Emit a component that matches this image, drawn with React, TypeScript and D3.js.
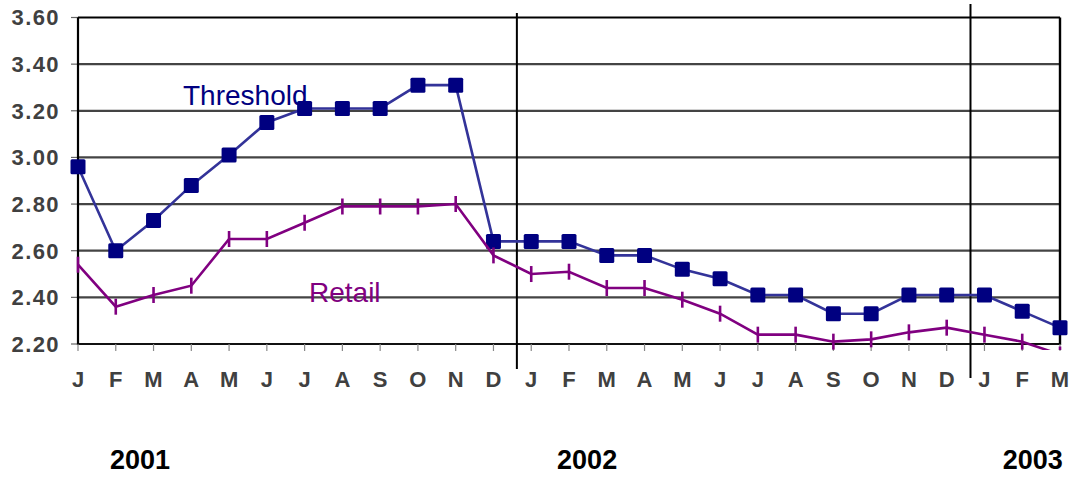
import React from "react";
import * as d3 from "d3";

// Monthly prices, January 2001 – March 2003
const months = ["J","F","M","A","M","J","J","A","S","O","N","D","J","F","M","A","M","J","J","A","S","O","N","D","J","F","M"];
const threshold = [2.96,2.60,2.73,2.88,3.01,3.15,3.21,3.21,3.21,3.31,3.31,2.64,2.64,2.64,2.58,2.58,2.52,2.48,2.41,2.41,2.33,2.33,2.41,2.41,2.41,2.34,2.27];
const retail = [2.54,2.36,2.41,2.45,2.65,2.65,2.72,2.79,2.79,2.79,2.80,2.58,2.50,2.51,2.44,2.44,2.39,2.33,2.24,2.24,2.21,2.22,2.25,2.27,2.24,2.21,2.155];
const yTicks = [2.2,2.4,2.6,2.8,3.0,3.2,3.4,3.6];
// year dividers and year captions, in month-index units
const yearBreaks = [11.62, 23.63];
const years = [
  { label: "2001", at: 1.64 },
  { label: "2002", at: 13.48 },
  { label: "2003", at: 25.28 },
];

const W = 1070, H = 477;
const left = 78, right = 1060, top = 17.5, bottom = 344;

export default function App() {
  const x = d3.scaleLinear().domain([0, months.length - 1]).range([left, right]);
  const y = d3.scaleLinear().domain([2.2, 3.6]).range([bottom, top]);
  const line = d3.line<number>().x((_, i) => x(i)).y((v) => y(v));
  const font = "Arial, 'Liberation Sans', Helvetica, sans-serif";

  return (
    <svg width={W} height={H} style={{ position: "absolute", left: 0, top: 0, background: "#fff" }} fontFamily={font}>
      <defs>
        <clipPath id="plotClip">
          <rect x={left - 10} y={top - 10} width={right - left + 20} height={y(2.2) + 6 - (top - 10)} />
        </clipPath>
      </defs>

      {/* horizontal gridlines */}
      {yTicks.map((t) => (
        <line key={"g" + t} x1={left} x2={right} y1={y(t)} y2={y(t)}
          stroke={t === 3.6 ? "#000" : t === 2.2 ? "#111" : "#444"} strokeWidth={2.2} />
      ))}
      {/* y ticks and labels */}
      {yTicks.map((t) => (
        <g key={"yt" + t}>
          <line x1={left - 7} x2={left} y1={y(t)} y2={y(t)} stroke="#666" strokeWidth={1.2} />
          <text x={60} y={y(t)} dy="0.36em" textAnchor="end" fontSize={22} fontWeight="bold"
            fill="#404040" letterSpacing={1.4}>{t.toFixed(2)}</text>
        </g>
      ))}
      {/* axes frame */}
      <line x1={left} x2={left} y1={top} y2={bottom + 1} stroke="#000" strokeWidth={2.2} />
      <line x1={right} x2={right} y1={top} y2={bottom + 1} stroke="#000" strokeWidth={2.4} />

      {/* x ticks and month labels */}
      {months.map((m, i) => (
        <g key={"m" + i}>
          <line x1={x(i)} x2={x(i)} y1={bottom} y2={bottom + 7} stroke="#888" strokeWidth={1.2} />
          <text x={x(i)} y={386.5} textAnchor="middle" fontSize={22} fontWeight="bold" fill="#404040">{m}</text>
        </g>
      ))}

      {/* year dividers */}
      <line x1={x(yearBreaks[0])} x2={x(yearBreaks[0])} y1={13} y2={369} stroke="#000" strokeWidth={2} />
      <line x1={x(yearBreaks[1])} x2={x(yearBreaks[1])} y1={4} y2={378} stroke="#000" strokeWidth={2} />

      {/* threshold series */}
      <path d={line(threshold) || ""} fill="none" stroke="#333399" strokeWidth={2.6} />
      {threshold.map((v, i) => (
        <rect key={"t" + i} x={x(i) - 7.5} y={y(v) - 7.5} width={15} height={15} rx={1.5} fill="#000080" />
      ))}

      {/* retail series */}
      <g clipPath="url(#plotClip)">
        <path d={line(retail) || ""} fill="none" stroke="#800080" strokeWidth={2.6} />
        {retail.map((v, i) => (
          <line key={"r" + i} x1={x(i)} x2={x(i)} y1={y(v) - 8} y2={y(v) + 8} stroke="#800080" strokeWidth={2.6} />
        ))}
      </g>

      {/* series labels */}
      <text x={183} y={105} fontSize={28} fill="#000080">Threshold</text>
      <text x={309} y={301.5} fontSize={28} fill="#800080">Retail</text>

      {/* year captions */}
      {years.map((yr) => (
        <text key={yr.label} x={x(yr.at)} y={469} textAnchor="middle" fontSize={27} fontWeight="bold" fill="#000">{yr.label}</text>
      ))}
    </svg>
  );
}
